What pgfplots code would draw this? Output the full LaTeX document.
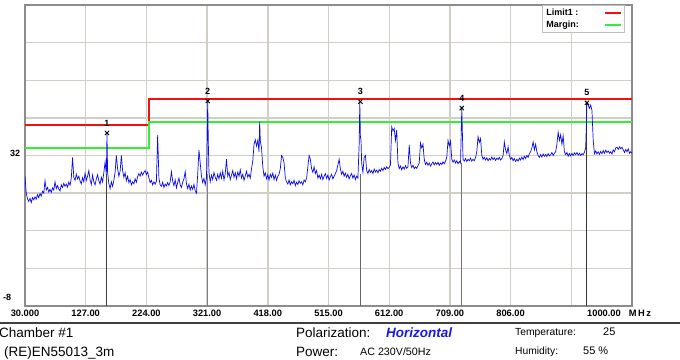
\documentclass[border=0pt]{standalone}
\usepackage{pgfplots}
\pgfplotsset{compat=1.18}
\usepackage{fontspec}
\setmainfont{Liberation Sans}
\definecolor{gridc}{RGB}{210,206,198}
\definecolor{limred}{RGB}{245,15,15}
\definecolor{margreen}{RGB}{50,240,50}
\definecolor{tracec}{RGB}{10,10,240}
\definecolor{horiz}{RGB}{25,25,230}
\begin{document}
\begin{tikzpicture}
\useasboundingbox (-25bp,-54bp) rectangle (655bp,306bp);
\begin{axis}[
  scale only axis, width=607bp, height=301bp,
  at={(0,0)}, anchor=south west,
  xmin=30, xmax=1000, ymin=-8, ymax=72,
  xtick={30,127,224,321,418,515,612,709,806,903,1000},
  xticklabels={30.000,127.00,224.00,321.00,418.00,515.00,612.00,709.00,806.00,,},
  ytick={-8,2,12,22,32,42,52,62,72},
  yticklabels={,,,,,,,,},
  major tick length=0pt,
  grid=major,
  major grid style={draw=gridc, line width=1.4bp},
  axis line style={draw=black!45, line width=1.4bp},
  /pgf/number format/assume math mode=true,
  xticklabel style={font=\bfseries\fontsize{9.3bp}{10bp}\selectfont},
  legend plot pos=right,
  legend cell align=left,
  legend style={at={(0.852,1)}, anchor=north west, draw=black!25, fill=white,
    font=\bfseries\fontsize{9bp}{10bp}\selectfont, inner xsep=2bp, inner ysep=1.5bp,
    nodes={inner sep=2bp}},
  legend image code/.code={\draw[#1] (0bp,0bp) -- (16bp,0bp);},
]
\addplot[draw=limred, line width=2bp] table {
30 40
228 40
228 47
1000 47
};
\addlegendentry{\makebox[56bp][l]{Limit1 :}}
\addplot[draw=margreen, line width=2bp] table {
30 34
228 34
228 41
1000 41
};
\addlegendentry{\makebox[56bp][l]{Margin:}}
% marker vertical lines
\addplot[forget plot, black!75, line width=1bp] coordinates {(161,-8) (161,27)};
\addplot[forget plot, black!50, line width=1bp] coordinates {(322,-8) (322,27)};
\addplot[forget plot, black!60, line width=1bp] coordinates {(566,-8) (566,27)};
\addplot[forget plot, black!55, line width=1bp] coordinates {(728,-8) (728,30)};
\addplot[forget plot, black!80, line width=1bp] coordinates {(928,-8) (928,46)};
% trace
\addplot[forget plot, tracec, line width=0.7bp] table {
30 26.5
32 22.0
34 20.5
36 19.8
38 20.6
40 19.5
42 20.8
44 20.2
46 21.0
48 20.4
50 21.6
52 20.8
54 21.9
56 21.2
58 22.5
60 22.0
62 25.3
64 22.8
66 23.5
68 22.3
70 23.0
72 22.2
74 23.4
76 22.8
78 25.0
80 23.2
82 24.0
84 23.1
86 22.6
88 24.2
90 23.5
92 24.6
94 23.8
96 24.4
98 23.6
100 24.9
102 24.1
104 26.0
106 31.5
108 26.2
110 25.4
112 27.0
114 25.8
116 26.5
118 25.2
120 24.5
122 26.1
124 25.0
126 27.3
128 25.4
130 26.5
132 28.0
134 25.6
136 24.3
138 26.8
140 25.0
142 24.2
144 25.8
146 26.9
148 25.3
150 24.4
152 26.2
154 25.0
156 27.5
158 30.3
160 27.0
161 38.0
162 27.5
164 24.5
166 23.2
168 25.0
170 23.8
172 25.4
174 27.6
176 32.0
178 28.5
180 26.5
182 27.8
184 32.0
186 28.0
188 26.2
190 27.4
192 25.3
194 26.5
196 24.8
198 25.6
200 24.2
202 25.0
204 24.5
206 25.8
208 24.9
210 26.4
212 27.2
214 26.5
216 27.6
218 26.8
220 27.5
222 28.0
224 26.9
226 27.6
228 26.0
230 24.8
232 25.4
234 24.2
236 25.0
238 24.4
240 25.2
242 37.5
244 26.0
246 24.2
248 23.8
250 24.9
252 23.5
254 24.4
256 23.9
258 24.8
260 24.0
262 25.0
264 27.7
266 25.2
268 24.0
270 25.5
272 23.4
274 24.8
276 26.0
278 24.2
280 23.5
282 24.9
284 25.8
286 27.7
288 24.5
290 23.2
292 24.4
294 22.8
296 23.9
298 23.0
300 24.3
302 22.6
304 22.0
306 27.0
308 33.5
310 30.0
312 26.5
314 24.8
316 25.9
318 24.2
320 26.0
321 35.0
322 46.5
323 35.0
324 27.5
326 25.0
328 26.8
330 25.6
332 27.5
334 26.2
336 25.4
338 27.0
340 25.8
342 27.4
344 26.0
346 27.8
348 25.5
350 27.2
352 31.0
354 26.5
356 27.5
358 25.6
360 26.8
362 28.0
364 26.2
366 27.4
368 25.8
370 27.6
372 26.5
374 28.2
376 26.0
378 27.0
380 25.4
382 26.6
384 27.8
386 26.2
388 27.0
390 26.0
392 28.5
394 30.5
396 35.0
398 36.2
400 34.5
402 36.0
404 33.0
405 41.0
406 36.0
408 34.0
410 29.0
412 26.5
414 27.4
416 25.8
418 26.9
420 25.5
422 27.0
424 26.2
426 27.3
428 25.6
430 26.8
432 25.4
434 26.5
436 27.0
438 28.5
440 32.0
442 31.5
444 30.0
446 26.0
448 25.0
450 24.4
452 25.5
454 24.2
456 25.0
458 24.5
460 25.4
462 24.0
464 24.9
466 24.3
468 25.3
470 24.6
472 25.0
474 24.2
476 25.5
478 25.0
480 26.0
482 29.0
484 32.0
486 31.0
488 28.5
490 27.5
492 29.0
494 27.2
496 28.0
498 26.0
500 26.8
502 25.8
504 27.0
506 25.6
508 26.5
510 27.2
512 25.9
514 26.8
516 25.5
518 26.4
520 27.0
522 25.8
524 26.5
526 27.2
528 28.0
530 29.5
532 31.0
534 28.5
536 27.0
538 27.8
540 26.5
542 27.3
544 26.2
546 27.0
548 25.8
550 26.6
552 27.2
554 26.0
556 26.8
558 25.6
560 26.5
562 26.0
564 35.0
565 46.3
566 37.0
567 36.0
568 30.0
570 27.5
572 31.5
574 32.0
576 28.0
578 27.2
580 28.3
582 27.5
584 28.0
586 27.2
588 28.4
590 27.6
592 28.1
594 27.4
596 28.3
598 27.8
600 28.6
602 28.0
604 28.8
606 28.3
608 29.0
610 28.5
612 28.8
614 29.5
616 39.6
618 38.5
620 39.2
622 36.0
624 38.8
626 30.0
628 28.5
630 29.2
632 28.2
634 29.0
636 28.4
638 29.3
640 28.6
642 29.0
644 34.8
646 30.0
648 28.8
650 29.4
652 28.5
654 29.0
656 28.6
658 29.3
660 30.0
662 35.3
664 34.0
666 35.0
668 31.0
670 29.6
672 30.2
674 29.4
676 30.0
678 29.2
680 29.8
682 30.3
684 29.5
686 30.1
688 29.6
690 30.2
692 29.4
694 30.0
696 29.6
698 30.3
700 29.8
702 30.5
704 31.5
706 36.0
708 34.5
710 35.8
712 31.0
714 30.2
716 30.8
718 30.0
720 30.6
722 29.8
724 30.4
726 30.0
728 44.6
730 31.0
732 30.5
734 31.2
736 30.4
738 31.0
740 30.6
742 31.3
744 30.5
746 31.0
748 30.6
750 31.5
752 33.0
754 37.0
756 35.5
758 36.5
760 32.0
762 31.0
764 31.5
766 30.8
768 31.4
770 30.6
772 31.2
774 30.8
776 31.6
778 30.9
780 31.4
782 30.7
784 31.3
786 30.9
788 31.5
790 30.8
792 31.2
794 32.0
796 35.6
798 33.5
800 32.5
802 34.3
804 32.0
806 31.0
808 31.5
810 30.6
812 31.2
814 30.4
816 31.0
818 30.5
820 31.3
822 30.8
824 31.6
826 30.9
828 31.8
830 31.2
832 32.0
834 31.5
836 32.5
838 33.0
840 34.0
842 35.6
844 33.5
846 35.0
848 33.0
850 32.0
852 31.5
854 32.2
856 31.6
858 32.4
860 31.8
862 32.3
864 31.7
866 32.5
868 31.9
870 32.2
872 32.8
874 32.0
876 32.6
878 33.0
880 35.0
882 38.2
884 36.0
886 37.5
888 35.0
890 37.2
892 33.0
894 32.2
896 32.8
898 31.8
900 32.5
902 31.9
904 32.6
906 32.0
908 32.7
910 32.2
912 32.8
914 32.1
916 32.6
918 32.0
920 32.5
922 32.2
924 32.9
926 34.0
928 46.0
930 45.4
932 44.5
934 45.4
936 44.0
938 36.0
940 32.5
942 33.2
944 32.4
946 33.0
948 32.3
950 33.1
952 32.5
954 33.3
956 32.6
958 33.4
960 32.8
962 33.2
964 32.6
966 33.0
968 32.4
970 33.5
972 33.0
974 34.0
976 34.2
978 33.6
980 34.3
982 33.8
984 34.2
986 33.5
988 32.8
990 33.6
992 33.0
994 33.8
996 32.6
998 33.0
1000 32.6
};
% markers
\addplot[forget plot, only marks, mark=x, mark size=3bp, black, line width=0.9bp]
  coordinates {(161,38) (322,46.5) (566,46.3) (728,44.6) (928,46)};
\node[font=\bfseries\fontsize{9bp}{10bp}\selectfont, yshift=10bp] at (axis cs:161,38) {1};
\node[font=\bfseries\fontsize{9bp}{10bp}\selectfont, yshift=10bp] at (axis cs:322,46.5) {2};
\node[font=\bfseries\fontsize{9bp}{10bp}\selectfont, yshift=10bp] at (axis cs:566,46.3) {3};
\node[font=\bfseries\fontsize{9bp}{10bp}\selectfont, yshift=10bp] at (axis cs:728,44.6) {4};
\node[font=\bfseries\fontsize{9bp}{10bp}\selectfont, yshift=10bp] at (axis cs:928,46) {5};
\end{axis}
% y labels
\node[anchor=west, font=\bfseries\fontsize{9bp}{10bp}\selectfont, inner sep=0pt] at (-15bp,153bp) {32};
\node[anchor=west, font=\bfseries\fontsize{9bp}{10bp}\selectfont, inner sep=0pt] at (-22bp,9bp) {-8};
% x unit label
\node[anchor=base west, font=\bfseries\fontsize{9.3bp}{10bp}\selectfont, inner sep=0pt] at (562bp,-10.5bp) {1000.00\hspace{8bp}M\,H\,z};
% info block
\draw[black!75, line width=1.2bp] (-25bp,-17bp) -- (655bp,-17bp);
\begin{scope}[every node/.style={inner sep=0pt, font=\fontsize{13.5bp}{16bp}\selectfont}]
\node[anchor=base west] at (-26bp,-31.8bp) {Chamber \#1};
\node[anchor=base west] at (-21bp,-50.8bp) {(RE)EN55013\_3m};
\node[anchor=base west] at (271bp,-31.8bp) {Polarization:};
\node[anchor=base west, text=horiz] at (361bp,-31.8bp) {\bfseries\itshape Horizontal};
\node[anchor=base west] at (271bp,-50.8bp) {Power:};
\node[anchor=base west, font=\fontsize{10.7bp}{12bp}\selectfont] at (335bp,-49.8bp) {AC 230V/50Hz};
\node[anchor=base west, font=\fontsize{10.3bp}{12bp}\selectfont] at (490bp,-29.7bp) {Temperature:};
\node[anchor=base west, font=\fontsize{11bp}{12bp}\selectfont] at (578bp,-29.7bp) {25};
\node[anchor=base west, font=\fontsize{10.3bp}{12bp}\selectfont] at (490bp,-48.7bp) {Humidity:};
\node[anchor=base west, font=\fontsize{11bp}{12bp}\selectfont] at (558bp,-48.7bp) {55 \%};
\end{scope}
\end{tikzpicture}
\end{document}
